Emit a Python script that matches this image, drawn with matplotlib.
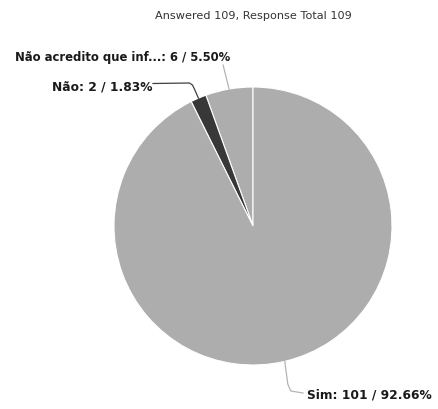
import numpy as np
import matplotlib
matplotlib.use('Agg')
import matplotlib.pyplot as plt

# survey answers
labels = ['Não acredito que inf...', 'Não', 'Sim']
counts = [6, 2, 101]
percents = [5.50, 1.83, 92.66]
colors = ['#adadad', '#383838', '#adadad']
leader_colors = ['#b4b4b4', '#404040', '#b4b4b4']

W, H = 438, 410
cx, cy, rad = 253, 227, 139

fig = plt.figure(figsize=(W/100, H/100), dpi=100, facecolor='white')
ax = fig.add_axes([0, 0, 1, 1])
ax.set_xlim(0, W)
ax.set_ylim(0, H)
ax.set_aspect('equal')
ax.axis('off')

def py(y):
    # pixel y (top-down) -> data y
    return H - y

wedges, _ = ax.pie(counts, colors=colors, startangle=90, counterclock=True,
                   center=(cx, py(cy)), radius=rad, frame=True,
                   wedgeprops=dict(edgecolor='white', linewidth=0.8))
ax.set_xlim(0, W)
ax.set_ylim(0, H)
ax.axis('off')

# anchor points on the rim
anchors = []
for w in wedges:
    a = np.deg2rad((w.theta1 + w.theta2) / 2)
    anchors.append((cx + rad*np.cos(a), py(cy) + rad*np.sin(a)))

txt_kw = dict(fontweight='bold', color='#1a1a1a', family='DejaVu Sans')

# Nao acredito
x0, y0 = anchors[0]
ax.plot([x0, x0 - 6], [y0, py(66)], color=leader_colors[0], lw=0.9)
ax.text(230, py(58), f'{labels[0]}: {counts[0]} / {percents[0]:.2f}%',
        ha='right', va='center', fontsize=8.4, **txt_kw)

# Nao
x1, y1 = anchors[1]
ax.plot([x1, x1 - 4, x1 - 6, x1 - 9, 153], [y1, py(90), py(86), py(84), py(84.5)],
        color=leader_colors[1], lw=0.9)
ax.text(152, py(87), f'{labels[1]}: {counts[1]} / {percents[1]:.2f}%',
        ha='right', va='center', fontsize=8.8, **txt_kw)

# Sim
x2, y2 = anchors[2]
ax.plot([x2, x2 + 3, x2 + 6, 303], [y2, py(385), py(392), py(394)],
        color=leader_colors[2], lw=0.9)
ax.text(307, py(395), f'{labels[2]}: {counts[2]} / {percents[2]:.2f}%',
        ha='left', va='center', fontsize=8.8, **txt_kw)

ax.text(253, py(16), 'Answered 109, Response Total 109', ha='center', va='center',
        fontsize=8.1, color='#333333', family='DejaVu Sans')

fig.savefig('out.png', dpi=100, facecolor='white')
